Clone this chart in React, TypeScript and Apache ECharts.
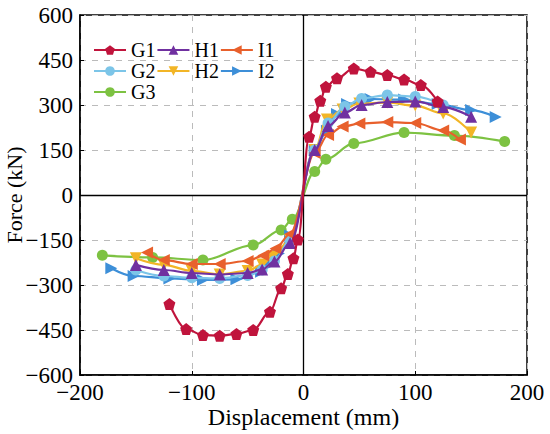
import React, { useEffect, useRef } from "react";
import * as echarts from "echarts";

const seriesNames = ["G1", "H1", "I1", "G2", "H2", "I2", "G3"];

const G1 = [[-120, -363], [-105, -447], [-90, -467], [-75, -469], [-60, -463], [-45, -450], [-30, -389], [-20, -311], [-14, -263], [-9, -211], [-5, -148],
  [5, 194], [10, 261], [15, 314], [20, 361], [30, 389], [45, 422], [60, 411], [75, 400], [90, 385], [105, 367], [120, 312]];
const H1 = [[-150, -233], [-125, -250], [-100, -260], [-75, -265], [-50, -260], [-37, -248], [-26, -222], [-12, -160],
  [10, 150], [22, 230], [37, 275], [52, 300], [75, 310], [100, 312], [125, 293], [150, 261]];
const I1 = [[-140, -192], [-125, -217], [-100, -230], [-75, -230], [-50, -220], [-36, -202], [-25, -178], [-12, -130],
  [10, 140], [22, 200], [35, 228], [50, 238], [75, 243], [100, 240], [125, 215], [140, 185]];
const G2 = [[-150, -250], [-125, -270], [-100, -276], [-75, -278], [-50, -268], [-37, -250], [-26, -220], [-12, -150],
  [10, 150], [22, 240], [37, 295], [52, 322], [75, 333], [100, 328], [125, 300]];
const H2 = [[-150, -211], [-125, -233], [-100, -253], [-75, -265], [-50, -253], [-37, -232], [-28, -205], [-12, -150],
  [10, 150], [21, 252], [35, 285], [50, 305], [75, 308], [100, 298], [125, 272], [150, 208]];
const I2 = [[-172, -244], [-152, -270], [-120, -278], [-90, -283], [-60, -281], [-38, -256], [-30, -232], [-22, -195], [-12, -135],
  [10, 150], [21, 214], [30, 270], [39, 303], [60, 320], [90, 318], [120, 303], [150, 283], [172, 260]];
const G3 = [[-180, -201], [-135, -208], [-90, -217], [-45, -167], [-20, -117], [-10, -81],
  [10, 78], [20, 119], [45, 172], [90, 208], [135, 198], [180, 178]];

const xTicks = [-200, -100, 0, 100, 200];
const yTicks = [-600, -450, -300, -150, 0, 150, 300, 450, 600];

const seriesData = [G1, H1, I1, G2, H2, I2, G3];
const colors = ["#C0143C", "#7030A0", "#E8602C", "#7CC5E8", "#F2B526", "#3D8FD8", "#7DC242"];
const PENTAGON = "path://M5,0 L10,3.8 L8.1,10 L1.9,10 L0,3.8 Z";
const TRI_UP = "path://M5,0 L10,9 L0,9 Z";
const TRI_LEFT = "path://M0,5 L9,0 L9,10 Z";
const TRI_DOWN = "path://M0,0 L10,0 L5,9 Z";
const TRI_RIGHT = "path://M0,0 L9,5 L0,10 Z";
const symbols = [PENTAGON, TRI_UP, TRI_LEFT, "circle", TRI_DOWN, TRI_RIGHT, "circle"];
const symbolSizes = [12, 12, 12, 11, 12, 12, 11];

const FONT = "'Times New Roman', 'Liberation Serif', serif";
const fmt = (v: number) => String(v).replace("-", "\u2212");

export default function App() {
  const ref = useRef<HTMLDivElement>(null);
  useEffect(() => {
    if (!ref.current) return;
    const chart = echarts.init(ref.current, null, { renderer: "svg" });
    const series: any[] = seriesNames.map((name, i) => ({
      name,
      type: "line",
      data: seriesData[i],
      smooth: 0.35,
      smoothMonotone: "x",
      symbol: symbols[i],
      symbolSize: symbolSizes[i],
      showAllSymbol: true,
      lineStyle: { width: 2.2, color: colors[i] },
      itemStyle: { color: colors[i] },
      z: 10 - i,
    }));
    series.push({
      name: "axes0",
      type: "line",
      data: [],
      silent: true,
      markLine: {
        silent: true,
        symbol: "none",
        label: { show: false },
        lineStyle: { color: "#000", type: "solid", width: 1.3 },
        data: [{ xAxis: 0 }, { yAxis: 0 }],
      },
    });
    chart.setOption({
      animation: false,
      color: colors,
      grid: {
        left: 80, right: 23, top: 15, bottom: 59,
        containLabel: false, outerBoundsMode: "none",
        show: true, borderColor: "#000", borderWidth: 1.5, backgroundColor: "transparent",
      },
      legend: {
        data: seriesNames,
        left: 88, top: 35, width: 215,
        itemWidth: 32, itemHeight: 12, itemGap: 1,
        textStyle: { fontFamily: FONT, fontSize: 20, color: "#000", padding: [0, 7, 0, 0] },
      },
      xAxis: {
        type: "value", min: -200, max: 200, interval: 100,
        name: "Displacement (mm)", nameLocation: "middle", nameGap: 30, nameMoveOverlap: false,
        nameTextStyle: { fontFamily: FONT, fontSize: 24, color: "#000" },
        axisLine: { onZero: false, lineStyle: { color: "#000", width: 1.5 } },
        axisTick: { show: true, inside: true, length: 4, lineStyle: { color: "#000" } },
        axisLabel: { fontFamily: FONT, fontSize: 23, color: "#000", margin: 9, lineHeight: 16, formatter: fmt },
        splitLine: { show: true, lineStyle: { color: "#bbb", type: [6, 6], width: 1 } },
      },
      yAxis: {
        type: "value", min: -600, max: 600, interval: 150,
        name: "Force (kN)", nameLocation: "middle", nameGap: 55, nameMoveOverlap: false,
        nameTextStyle: { fontFamily: FONT, fontSize: 22, color: "#000" },
        axisLine: { onZero: false, lineStyle: { color: "#000", width: 1.5 } },
        axisTick: { show: true, inside: true, length: 4, lineStyle: { color: "#000" } },
        axisLabel: { fontFamily: FONT, fontSize: 23, color: "#000", margin: 7, lineHeight: 16, formatter: fmt },
        splitLine: { show: true, lineStyle: { color: "#bbb", type: [6, 6], width: 1 } },
      },
      series,
    });
    return () => chart.dispose();
  }, []);
  return <div ref={ref} style={{ position: "fixed", left: 0, top: 0, width: 550, height: 434, background: "#fff" }} />;
}
